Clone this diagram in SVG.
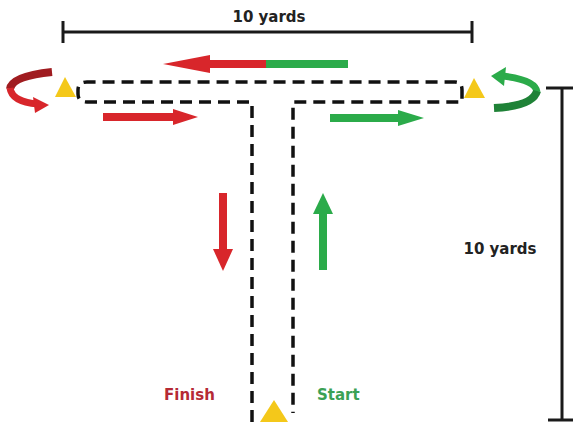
<svg xmlns="http://www.w3.org/2000/svg" width="573" height="426" viewBox="0 0 573 426">
<style>
.dim{stroke:#1a1a1a;stroke-width:3;fill:none}
.lbl{font-family:"DejaVu Sans","Liberation Sans",sans-serif;font-weight:bold;font-size:15px}
.course{stroke:#111;stroke-width:3.5;fill:none;stroke-dasharray:12 7}
.cone{fill:#f4c81a}
.red{fill:#d8262b}
.green{fill:#2bab4a}
</style>
<rect width="573" height="426" fill="#fff"/>
<g id="dim-top">
<line class="dim" x1="63" y1="32" x2="472" y2="32"/>
<line class="dim" x1="63" y1="21" x2="63" y2="43"/>
<line class="dim" x1="472" y1="21" x2="472" y2="43"/>
<text class="lbl" x="269" y="22" text-anchor="middle" fill="#222">10 yards</text>
</g>
<g id="dim-right">
<line class="dim" x1="562" y1="88" x2="562" y2="420"/>
<line class="dim" x1="546" y1="88" x2="573" y2="88"/>
<line class="dim" x1="548" y1="420" x2="573" y2="420"/>
<text class="lbl" x="500" y="254" text-anchor="middle" fill="#222">10 yards</text>
</g>
<g id="course">
<path class="course" d="M252 422 V102 H87 Q78 102 78 94 V90 Q78 82 87 82 H455 Q462 82 462 90 V102 H293 V413"/>
</g>
<g id="cone-left"><polygon class="cone" points="65,77 55,97 76,97"/></g>
<g id="cone-right"><polygon class="cone" points="474,78 464,98 485,98"/></g>
<g id="cone-bottom"><polygon class="cone" points="274,400 260,422 288,422"/></g>
<g id="turn-left">
<path d="M52 72 Q12 76 10 89" stroke="#a01c20" stroke-width="8" fill="none"/>
<path d="M10 88 Q12 102 38 104" stroke="#d8262b" stroke-width="7" fill="none"/>
<polygon class="red" points="49,105 33,97 35,113"/>
</g>
<g id="turn-right">
<path d="M503 76 Q536 80 537 92" stroke="#2bab4a" stroke-width="7" fill="none"/>
<path d="M537 91 Q533 106 494 108" stroke="#1f8237" stroke-width="8" fill="none"/>
<polygon class="green" points="491,76 506,67 504,86"/>
</g>
<g id="arrow-top">
<rect x="265" y="60" width="83" height="8" class="green"/>
<rect x="205" y="60" width="61" height="8" class="red"/>
<polygon class="red" points="163,64 210,55 210,73"/>
</g>
<g id="arrow-left-right">
<rect x="103" y="113" width="74" height="8" class="red"/>
<polygon class="red" points="198,117 173,109 173,125"/>
</g>
<g id="arrow-right-right">
<rect x="330" y="114" width="72" height="8" class="green"/>
<polygon class="green" points="424,118 398,110 398,126"/>
</g>
<g id="arrow-down">
<rect x="219" y="193" width="8" height="60" class="red"/>
<polygon class="red" points="223,271 213,249 233,249"/>
</g>
<g id="arrow-up">
<rect x="319" y="210" width="8" height="60" class="green"/>
<polygon class="green" points="323,193 313,214 333,214"/>
</g>
<g id="labels">
<text class="lbl" x="164" y="400" fill="#b52a35">Finish</text>
<text class="lbl" x="317" y="400" fill="#3aa155">Start</text>
</g>
</svg>
